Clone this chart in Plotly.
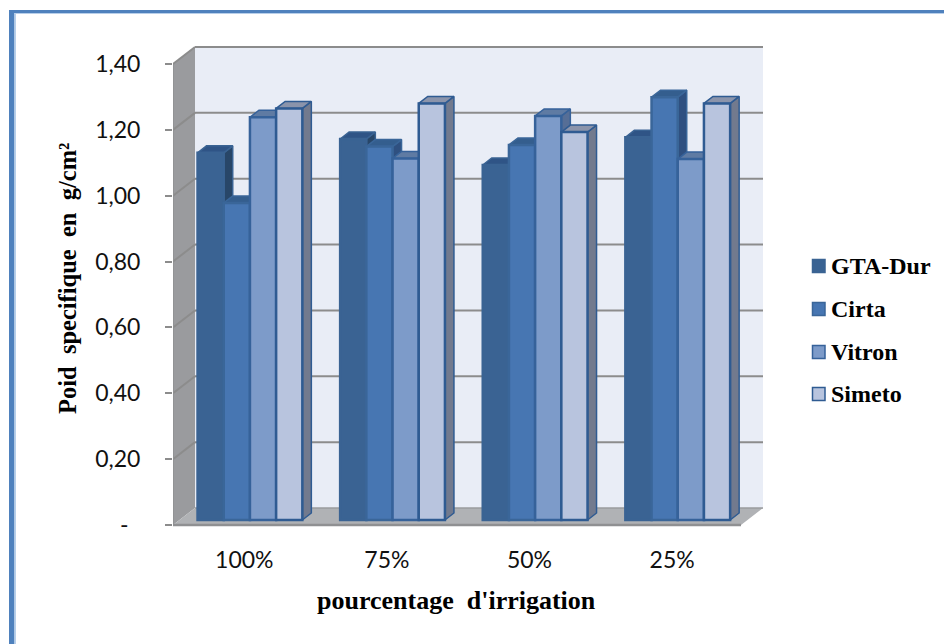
import plotly.graph_objects as go

categories = ["100%", "75%", "50%", "25%"]
series = ["GTA-Dur", "Cirta", "Vitron", "Simeto"]
gta_dur = [1.115, 1.157, 1.078, 1.162]
cirta = [0.963, 1.134, 1.139, 1.284]
vitron = [1.223, 1.098, 1.227, 1.096]
simeto = [1.250, 1.265, 1.178, 1.265]
y_ticks = [0, 0.2, 0.4, 0.6, 0.8, 1.0, 1.2, 1.4]
y_labels = ["-\u00a0\u00a0", "0,20", "0,40", "0,60", "0,80", "1,00", "1,20", "1,40"]
values = [gta_dur, cirta, vitron, simeto]

W, H = 944, 644
L, R, T, B = 173, 765, 44, 528   # plot area, pixels
PXU_X, PXU_Y = 142.6, 329.3      # pixels per data unit
Y0_PX = 525
xr = [0, (R - L) / PXU_X]
yr = [(Y0_PX - B) / PXU_Y, (Y0_PX - T) / PXU_Y]

DX, DY = 22 / PXU_X, 17 / PXU_Y          # depth of the whole floor
BX, BY = 6 / PXU_X, 5 / PXU_Y            # bar front plane offset
SX, SY = 9 / PXU_X, 7 / PXU_Y            # bar depth
BW = 26.2 / PXU_X
GROUP_PAD = 0.13

front = ["#3a6393", "#4776b2", "#7d9bc9", "#b8c4de"]
side = ["#284668", "#2f5080", "#566e96", "#727a8e"]
top = ["#2f5486", "#345e8e", "#5f7ba3", "#8b94ab"]
edge = ["#3a6393", "#3a6699", "#36629a", "#2f5b92"]

fig = go.Figure()

# side and top faces, left to right
for i in range(len(categories)):
    for j in range(len(series)):
        x = i + GROUP_PAD + j * BW + BX
        t = values[j][i] + BY
        fig.add_trace(go.Scatter(
            x=[x + BW, x + BW + SX, x + BW + SX, x + BW, x + BW],
            y=[t, t + SY, BY + SY, BY, t],
            mode="lines", fill="toself", fillcolor=side[j],
            line=dict(color=edge[j], width=1.5),
            showlegend=False, hoverinfo="skip"))
        fig.add_trace(go.Scatter(
            x=[x, x + BW, x + BW + SX, x + SX, x],
            y=[t, t, t + SY, t + SY, t],
            mode="lines", fill="toself", fillcolor=top[j],
            line=dict(color=edge[j], width=1.5),
            showlegend=False, hoverinfo="skip"))

# front faces on an overlaid subplot so they sit above every side face
for j, name in enumerate(series):
    fig.add_trace(go.Bar(
        x=[i + GROUP_PAD + j * BW + BX for i in range(len(categories))],
        y=values[j], base=BY, width=BW, offset=0, name=name,
        marker=dict(color=front[j], line=dict(color=edge[j], width=2.5)),
        xaxis="x2", yaxis="y2", showlegend=False))

shapes = []
def poly(xs, ys, fill):
    path = "M" + "L".join(f"{a},{b}" for a, b in zip(xs, ys)) + "Z"
    shapes.append(dict(type="path", path=path, xref="x", yref="y",
                       fillcolor=fill, line=dict(width=0), layer="below"))
def seg(x0, y0, x1, y1, color="#8c8c8c", width=2):
    shapes.append(dict(type="line", x0=x0, y0=y0, x1=x1, y1=y1, xref="x", yref="y",
                       line=dict(color=color, width=width), layer="below"))

XMAX = 568 / PXU_X
YMAX = y_ticks[-1]
poly([DX, XMAX + DX, XMAX + DX, DX], [DY, DY, YMAX + DY, YMAX + DY], "#e9edf6")
poly([0, DX, DX, 0], [0, DY, YMAX + DY, YMAX], "#9a9b9e")
poly([0, XMAX, XMAX + DX, DX], [0, 0, DY, DY], "#b0b2b5")
for v in y_ticks[1:]:
    seg(DX, v + DY, XMAX + DX, v + DY)
    seg(0, v, DX, v + DY)
seg(DX, DY, XMAX + DX, DY, "#9a9b9e", 1.5)
seg(0, 0, XMAX, 0, "#8f9092", 2.5)
seg(0, 0, 0, YMAX, "#8f9092", 1.5)

def px(x):
    return (x - L) / (R - L)
def py(y):
    return (B - y) / (B - T)

# outer frame: top and left only
frame = [(9, 14.5, 10, H, "#4f81bd"), (14.5, 16, 13, H, "#b8cfea"),
         (9, W, 10, 13, "#4f81bd"), (14.5, W, 13, 14, "#b8cfea")]
for a, b, c, d, col in frame:
    shapes.append(dict(type="rect", xref="paper", yref="paper", x0=px(a), x1=px(b),
                       y0=py(d), y1=py(c), fillcolor=col, line=dict(width=0), layer="below"))

annotations = [
    dict(text="pourcentage\u00a0\u00a0d'irrigation", x=px(456.5), y=py(600), xref="paper", yref="paper",
         showarrow=False, xanchor="center", yanchor="middle",
         font=dict(family="Liberation Serif", size=26, color="#000000", weight="bold")),
    dict(text="Poid\u00a0\u00a0specifique\u00a0\u00a0en\u00a0\u00a0g/cm²", x=px(67), y=py(279), xref="paper", yref="paper",
         showarrow=False, textangle=-90, xanchor="center", yanchor="middle",
         font=dict(family="Liberation Serif", size=24.5, color="#000000", weight="bold")),
]

# legend
legend_y = [266, 309, 352, 394]
for j, name in enumerate(series):
    shapes.append(dict(type="rect", xref="paper", yref="paper",
                       x0=px(812.5), x1=px(825), y0=py(legend_y[j] + 6.5), y1=py(legend_y[j] - 6.5),
                       fillcolor=front[j], line=dict(color=edge[j], width=1.5)))
    annotations.append(dict(text=name, x=px(828.5), y=py(legend_y[j]), xref="paper", yref="paper",
                            showarrow=False, xanchor="left", yanchor="middle",
                            font=dict(family="Liberation Serif", size=24, color="#000000", weight="bold")))

fig.update_layout(
    width=W, height=H, autosize=False,
    margin=dict(l=L, r=W - R, t=T, b=H - B, pad=0),
    paper_bgcolor="#ffffff", plot_bgcolor="rgba(0,0,0,0)",
    barmode="overlay", showlegend=False, shapes=shapes, annotations=annotations,
    xaxis=dict(range=xr, showgrid=False, zeroline=False, showline=False,
               tickmode="array", tickvals=[i + 0.5 for i in range(len(categories))],
               ticktext=categories, ticks="outside", ticklen=11, tickcolor="rgba(0,0,0,0)",
               tickfont=dict(family="Lato", size=23, color="#111111")),
    yaxis=dict(range=yr, showgrid=False, zeroline=False, showline=False,
               tickmode="array", tickvals=y_ticks, ticktext=y_labels,
               ticks="outside", ticklen=7, tickwidth=2, tickcolor="#8c8c8c",
               ticklabelstandoff=20,
               tickfont=dict(family="Lato", size=23, color="#111111")),
    xaxis2=dict(range=xr, overlaying="x", visible=False),
    yaxis2=dict(range=yr, overlaying="y", visible=False),
)

fig.write_html("out.html", config={"displayModeBar": False},
               post_script="document.body.style.margin='0';document.body.style.overflow='hidden';")
